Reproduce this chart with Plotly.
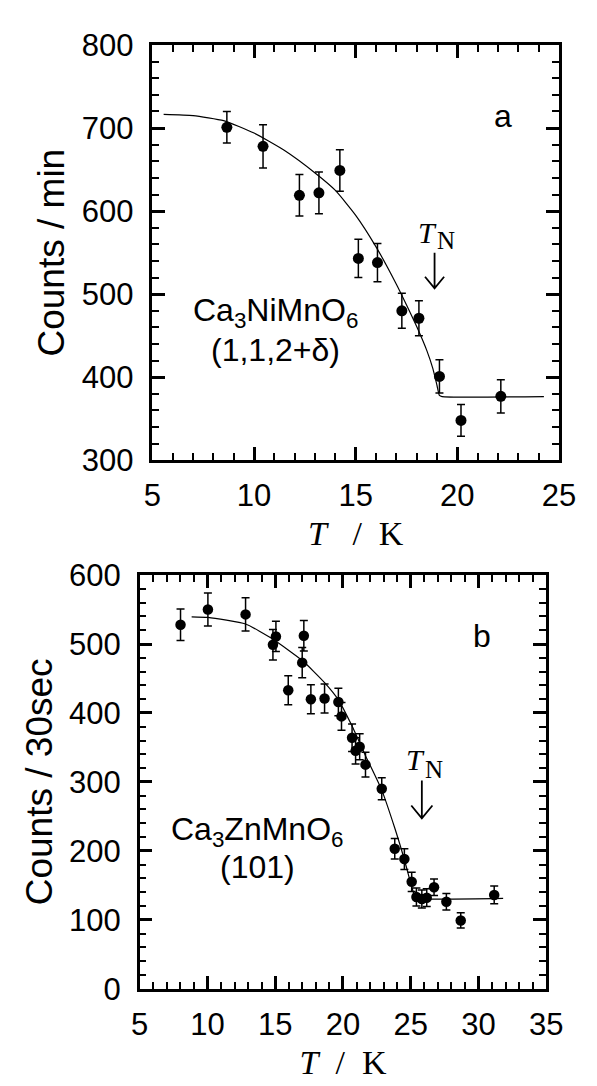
import plotly.graph_objects as go

# ---------------- Panel a : Ca3NiMnO6 (1,1,2+δ) ----------------
a_T = [8.66, 10.44, 12.23, 13.19, 14.22, 15.13, 16.07, 17.27, 18.11, 19.12, 20.18, 22.14]
a_counts = [701, 678, 619, 622, 649, 543, 538, 480, 471, 401, 348, 377]
a_err = [19, 26, 25, 25, 25, 23, 23, 21, 21, 20, 19, 20]

a_fit_T = [5.55, 7.0, 8.5, 10.0, 11.5, 13.0, 14.0, 15.0, 16.0, 17.0, 17.5, 18.0, 18.5, 18.8, 19.0, 19.12, 19.25, 24.26]
a_fit_counts = [716.5, 715, 709, 694, 673, 646, 625, 595, 557, 512, 487, 461, 432, 410, 390, 378, 376.6, 376.6]

a_TN = 18.88

# ---------------- Panel b : Ca3ZnMnO6 (101) ----------------
b_T = [8.01, 10.03, 12.81, 14.83, 15.05, 15.96, 16.99, 17.11, 17.63, 18.64, 19.66, 19.89, 20.67,
       20.93, 21.23, 21.66, 22.86, 23.82, 24.53, 25.07, 25.42, 25.82, 26.18, 26.72, 27.63, 28.69, 31.16]
b_counts = [528, 550, 543, 499, 511, 433, 473, 512, 420, 421, 416, 395, 364,
            345, 351, 325, 290, 203, 188, 155, 133, 130, 132, 147, 126, 99, 136]
b_err = [23, 24, 24, 22, 22, 21, 22, 22, 21, 21, 20, 20, 20,
         19, 19, 18, 16, 15, 15, 14, 13, 13, 13, 12, 12, 11, 13]

b_fit_T = [8.83, 10.03, 12.81, 14.83, 17.0, 18.64, 19.66, 20.67, 21.66, 22.86, 23.82, 24.53, 25.07, 25.3, 25.5, 31.82]
b_fit_counts = [539.5, 538.6, 529, 507, 476, 444, 419, 381, 338, 288, 233, 187, 148, 134, 131, 131]

b_TN = 25.82

SANS = "Liberation Sans"
SERIF = "Liberation Serif"
TICK_COLOR = "black"

fig = go.Figure()

# fitted curves
fig.add_trace(go.Scatter(x=a_fit_T, y=a_fit_counts, mode="lines",
                         line=dict(color="black", width=1.2, shape="spline", smoothing=0.5),
                         xaxis="x", yaxis="y", showlegend=False, hoverinfo="skip"))
fig.add_trace(go.Scatter(x=b_fit_T, y=b_fit_counts, mode="lines",
                         line=dict(color="black", width=1.2, shape="spline", smoothing=0.5),
                         xaxis="x2", yaxis="y2", showlegend=False, hoverinfo="skip"))

# measured points with error bars
fig.add_trace(go.Scatter(x=a_T, y=a_counts, mode="markers",
                         marker=dict(color="black", size=11),
                         error_y=dict(type="data", array=a_err, color="black", thickness=1.5, width=4),
                         xaxis="x", yaxis="y", showlegend=False))
fig.add_trace(go.Scatter(x=b_T, y=b_counts, mode="markers",
                         marker=dict(color="black", size=10.5),
                         error_y=dict(type="data", array=b_err, color="black", thickness=1.5, width=4),
                         xaxis="x2", yaxis="y2", showlegend=False))

tickfont = dict(family=SANS, size=31, color="black")

def xax(domain, rng, anchor, title):
    return dict(domain=domain, range=rng, anchor=anchor, dtick=5,
                ticks="inside", ticklen=13, tickwidth=2.5, tickcolor=TICK_COLOR,
                minor=dict(ticks="inside", dtick=1, ticklen=7, tickwidth=2.2, tickcolor=TICK_COLOR),
                showline=True, linewidth=2.5, linecolor="black", mirror="ticks",
                showgrid=False, zeroline=False, tickfont=tickfont, ticklabelstandoff=6,
                title=dict(text=title, font=dict(family=SERIF, size=34, color="black"), standoff=10))

def yax(domain, rng, anchor, dtick, minor, title):
    return dict(domain=domain, range=rng, anchor=anchor, dtick=dtick,
                ticks="inside", ticklen=13, tickwidth=2.5, tickcolor=TICK_COLOR,
                minor=dict(ticks="inside", dtick=minor, ticklen=7, tickwidth=2.2, tickcolor=TICK_COLOR),
                showline=True, linewidth=2.5, linecolor="black", mirror="ticks",
                showgrid=False, zeroline=False, tickfont=tickfont, ticklabelstandoff=10,
                title=dict(text=title, font=dict(family=SANS, size=37, color="black"), standoff=6))

W, H = 597, 1086
fig.update_layout(
    width=W, height=H,
    margin=dict(l=0, r=0, t=0, b=0),
    paper_bgcolor="white", plot_bgcolor="white",
    xaxis=xax([150 / W, 575 / W], [5, 25], "y", "<i>T</i>\u00a0\u00a0\u00a0/\u00a0\u00a0K"),
    yaxis=yax([(H - 458) / H, (H - 29) / H], [300, 800], "x", 100, 20, "Counts / min"),
    xaxis2=xax([136.7 / W, 561.7 / W], [5, 35], "y2", "<i>T</i>\u00a0\u00a0/\u00a0\u00a0K"),
    yaxis2=yax([(H - 1004) / H, (H - 576.7) / H], [0, 600], "x2", 100, 20, "Counts / 30sec"),
)

ann_sans = dict(family=SANS, size=32, color="black")
tn_T_font = dict(family=SERIF, size=30, color="black")
tn_N_font = dict(family=SERIF, size=25, color="black")

annotations = [
    dict(x=22.26, y=715, xref="x", yref="y", text="a", showarrow=False, font=ann_sans),
    dict(x=11.04, y=478, xref="x", yref="y", text="Ca<sub>3</sub>NiMnO<sub>6</sub>", showarrow=False, font=ann_sans),
    dict(x=11.04, y=433, xref="x", yref="y", text="(1,1,2+δ)", showarrow=False, font=ann_sans),
    dict(x=a_TN, y=574, xref="x", yref="y", text="<i>T</i>", showarrow=False, font=tn_T_font, xshift=-7),
    dict(x=a_TN, y=565, xref="x", yref="y", text="N", showarrow=False, font=tn_N_font, xshift=11),
    dict(x=30.29, y=511, xref="x2", yref="y2", text="b", showarrow=False, font=ann_sans),
    dict(x=13.7, y=228, xref="x2", yref="y2", text="Ca<sub>3</sub>ZnMnO<sub>6</sub>", showarrow=False, font=ann_sans),
    dict(x=13.7, y=177, xref="x2", yref="y2", text="(101)", showarrow=False, font=ann_sans),
    dict(x=b_TN, y=333, xref="x2", yref="y2", text="<i>T</i>", showarrow=False, font=tn_T_font, xshift=-6),
    dict(x=b_TN, y=318, xref="x2", yref="y2", text="N", showarrow=False, font=tn_N_font, xshift=12),
]
fig.update_layout(annotations=annotations)

# T_N arrows (open V heads)
def tn_arrow(xr, yr, xc, y_top, y_bot, head_dx, head_dy):
    return dict(type="path", xref=xr, yref=yr,
                path=f"M {xc} {y_top} L {xc} {y_bot} M {xc - head_dx} {y_bot + head_dy} L {xc} {y_bot} L {xc + head_dx} {y_bot + head_dy}",
                line=dict(color="black", width=1.8))

fig.update_layout(shapes=[
    tn_arrow("x", "y", a_TN, 550, 507, 0.47, 14),
    tn_arrow("x2", "y2", b_TN, 302, 247, 0.78, 18.7),
])

fig.write_html("out.html")
